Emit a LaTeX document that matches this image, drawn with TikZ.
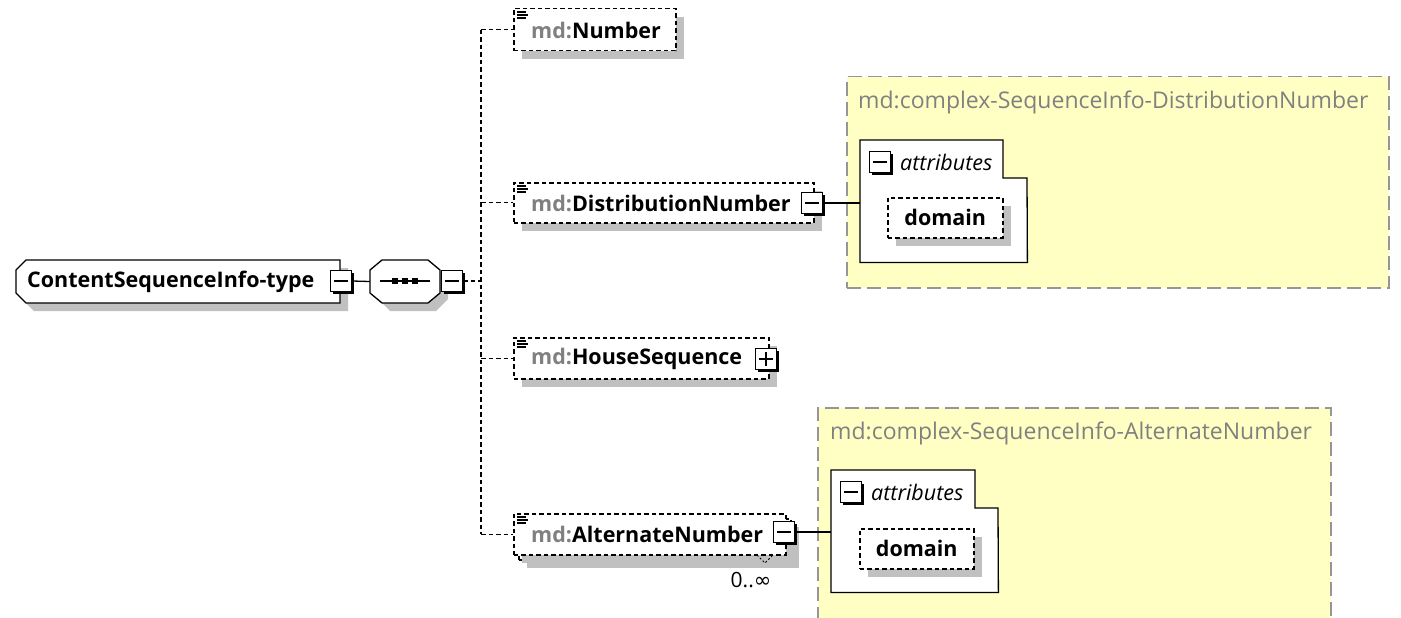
\documentclass[tikz,border=0pt]{standalone}
\usepackage{fontspec}
\setmainfont{Open Sans}
\newfontfamily\symfont{DejaVu Sans}
\usetikzlibrary{shadows}
\definecolor{shadowgray}{RGB}{192,192,192}
\definecolor{ctfill}{RGB}{255,255,196}
\definecolor{ctborder}{RGB}{150,150,150}
\definecolor{prefix}{RGB}{128,128,128}
\begin{document}
\begin{tikzpicture}[x=1pt,y=-1pt,
  lbl/.style={inner sep=0, anchor=west, font=\fontsize{21.5}{24}\selectfont\bfseries},
  ttl/.style={inner sep=0, anchor=west, text=prefix, font=\fontsize{23}{26}\selectfont},
  itl/.style={inner sep=0, anchor=west, font=\fontsize{21.5}{24}\selectfont\itshape},
  elem/.style={draw, line width=1.5pt, dash pattern=on 4.5pt off 3pt, fill=white,
    inner sep=0, anchor=north west,
    drop shadow={shadow xshift=8pt, shadow yshift=-8pt, fill=shadowgray, opacity=1}},
  pmbox/.style={draw, line width=1.3pt, fill=white, inner sep=0,
    minimum width=21pt, minimum height=21pt,
    drop shadow={shadow xshift=2.5pt, shadow yshift=-2.5pt, fill=black, opacity=1}},
  minus/.style={pmbox, path picture={
    \draw[line width=1.3pt] ([xshift=3.5pt]path picture bounding box.west) -- ([xshift=-3.5pt]path picture bounding box.east);}},
  plus/.style={pmbox, path picture={
    \draw[line width=1.3pt] ([xshift=3.5pt]path picture bounding box.west) -- ([xshift=-3.5pt]path picture bounding box.east);
    \draw[line width=1.3pt] ([yshift=-3.5pt]path picture bounding box.north) -- ([yshift=3.5pt]path picture bounding box.south);}},
  ctype/.style={draw=ctborder, fill=ctfill, line width=1.5pt, dash pattern=on 14pt off 6pt,
    inner sep=0, anchor=north west},
  tree/.style={line width=1.3pt, dash pattern=on 4.5pt off 3pt},
  wire/.style={line width=1.3pt},
  attrbox/.style={draw, line width=1.3pt, fill=white},
  shade/.style={fill=shadowgray, draw=none}
]
\useasboundingbox (0,0) rectangle (1401,618);

% ---- complex type backgrounds ----
\node[ctype, minimum width=542pt, minimum height=211pt] (ct1) at (846,76) {};
\node[ttl] (ct1T) at (858,102) {md:complex-SequenceInfo-DistributionNumber};
\node[ctype, minimum width=513pt, minimum height=215pt] (ct2) at (817,407) {};
\node[ttl] (ct2T) at (830,433) {md:complex-SequenceInfo-AlternateNumber};

% ---- root type ----
\fill[shade] (34,268) -- (348,268) -- (348,311) -- (34,311) -- (24,301) -- (24,278) -- cycle;
\draw[line width=1.3pt, fill=white] (26,260) -- (340,260) -- (340,303) -- (26,303) -- (16,293) -- (16,270) -- cycle;
\node[lbl] (mainT) at (27,282) {ContentSequenceInfo-type};
\node[minus] (mainPM) at (341,281) {};

% ---- sequence compositor ----
\fill[shade] (390,268) -- (436,268) -- (448,278) -- (448,299) -- (436,311) -- (390,311) -- (378,299) -- (378,278) -- cycle;
\node[inner sep=0, minimum width=70pt, minimum height=43pt] (seq) at (405,281.5) {};
\draw[line width=1.3pt, fill=white] (382,260) -- (428,260) -- (440,270) -- (440,293) -- (428,303) -- (382,303) -- (370,293) -- (370,270) -- cycle;
\draw[line width=1.3pt] (380,281) -- (430,281);
\foreach \dx in {395,405,415} \fill (\dx-3,278) rectangle (\dx+3,284);
\node[minus] (seqPM) at (452,281) {};
\draw[wire] (mainPM.east) -- (seq.west);

% ---- child elements ----
\node[elem, minimum width=162pt, minimum height=42pt] (num) at (513,8) {};
\node[lbl] (numT) at (531,30) {\textcolor{prefix}{md:}Number};

\node[elem, minimum width=300pt, minimum height=40pt] (dist) at (513,182) {};
\node[lbl] (distT) at (531,203) {\textcolor{prefix}{md:}DistributionNumber};
\node[minus] (distPM) at (812,203) {};

\node[elem, minimum width=255pt, minimum height=41pt] (house) at (513,337) {};
\node[lbl] (houseT) at (531,359) {\textcolor{prefix}{md:}HouseSequence};
\node[plus] (housePM) at (766,359) {};

% repeated element: stacked outline
\node[elem, minimum width=272pt, minimum height=41pt] (altB) at (518,518) {};
\node[elem, minimum width=272pt, minimum height=41pt, drop shadow={opacity=0}] (alt) at (513,513) {};
\node[lbl] (altT) at (531,534) {\textcolor{prefix}{md:}AlternateNumber};
\node[minus] (altPM) at (784,532) {};
\draw[line width=0.9pt, dash pattern=on 2pt off 2pt] (757,555) -- (765,563) -- (772,556);
\node[inner sep=0, font=\fontsize{21}{24}\selectfont] (altOcc) at (751,580) {0..{\symfont ∞}};

% documentation markers
\foreach \e in {num,dist,house,alt}{
  \draw[line width=1.1pt] ([shift={(4,4)}]\e.north west) -- ++(9,0)
        ([shift={(4,7)}]\e.north west) -- ++(11,0)
        ([shift={(4,10)}]\e.north west) -- ++(9,0);
}

% ---- compositor tree ----
\coordinate (spine) at (481,281);
\draw[tree] (seqPM.east) -- (spine);
\draw[tree] (num.west -| spine) -- (alt.west -| spine);
\foreach \e in {num,dist,house,alt}
  \draw[tree] (\e.west -| spine) -- (\e.west);

% ---- attribute groups ----
\node[inner sep=0, minimum width=167pt, minimum height=122pt, anchor=north west] (att1) at (860,140) {};
\draw[attrbox] (att1.north west) -- (1003,140) -- (1003,178) -- (1027,178) -- (att1.south east) -- (att1.south west) -- cycle;
\node[minus] (att1PM) at (880,162) {};
\node[itl] (att1T) at (900,162) {attributes};
\node[elem, minimum width=115pt, minimum height=40pt, font=\fontsize{21.5}{24}\selectfont\bfseries] (dom1) at (887,197) {domain};
\draw[wire] (distPM.east) -- (distPM.east -| att1.west);

\node[inner sep=0, minimum width=167pt, minimum height=122pt, anchor=north west] (att2) at (831,470) {};
\draw[attrbox] (att2.north west) -- (975,470) -- (975,508) -- (998,508) -- (att2.south east) -- (att2.south west) -- cycle;
\node[minus] (att2PM) at (851,492) {};
\node[itl] (att2T) at (871,492) {attributes};
\node[elem, minimum width=114pt, minimum height=40pt, font=\fontsize{21.5}{24}\selectfont\bfseries] (dom2) at (859,528) {domain};
\draw[wire] (altPM.east) -- (altPM.east -| att2.west);
\end{tikzpicture}
\end{document}
